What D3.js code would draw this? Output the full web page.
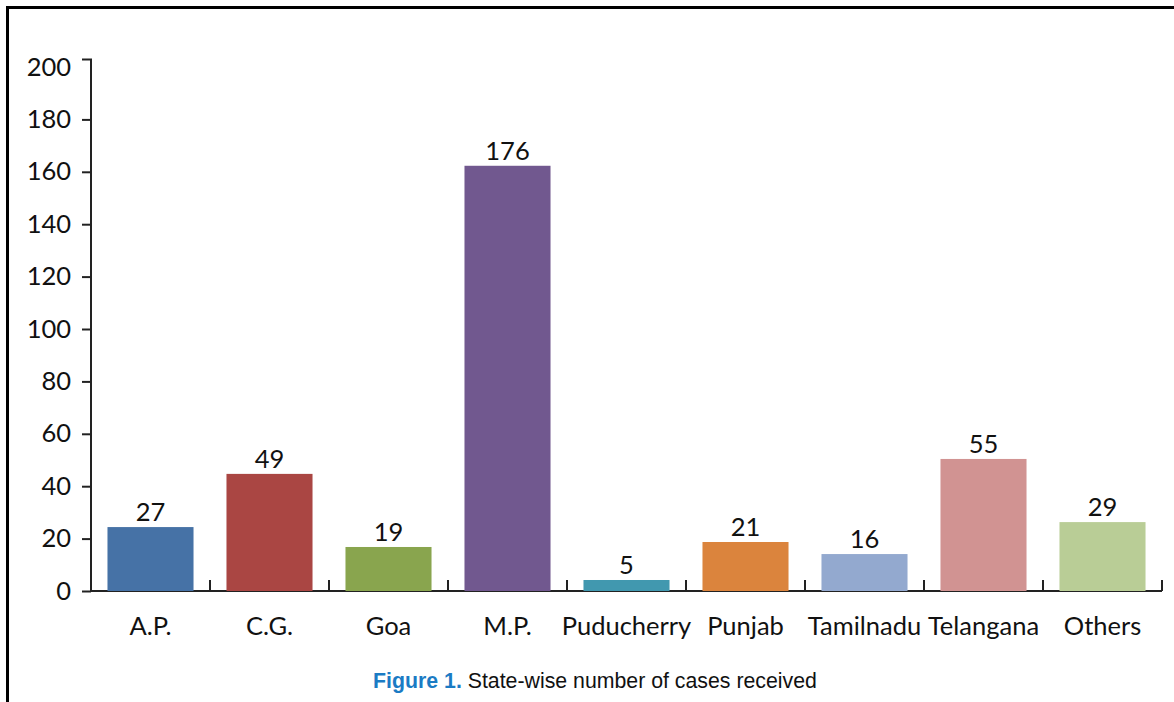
<!DOCTYPE html>
<html>
<head>
    <meta charset="utf-8" />
    <title>State-wise number of cases received</title>
    <style>
        body { margin: 0; background: #fff; }
        text { font-family: Lato, "Open Sans", sans-serif; font-size: 25.5px; fill: #111; }
        .axis path, .axis line { stroke: #222; stroke-width: 2px; fill: none; }
        .caption { font-family: "Liberation Sans", Arial, sans-serif; font-size: 21.3px; }
    </style>
</head>
<body>
    <script src="https://d3js.org/d3.v7.min.js"></script>
    <script>
      // chart data
      var states = ["A.P.", "C.G.", "Goa", "M.P.", "Puducherry", "Punjab", "Tamilnadu", "Telangana", "Others"];
      var cases = [27, 49, 19, 176, 5, 21, 16, 55, 29];            // printed labels
      var barHeights = [24.4, 44.7, 16.8, 162.3, 4.2, 18.7, 14.1, 50.4, 26.3]; // bar tops as drawn
      var colors = ["#4672a6", "#aa4643", "#89a54e", "#71588f", "#4198af", "#db843d", "#93a9cf", "#d19392", "#b9cd96"];
      var yTicks = [0, 20, 40, 60, 80, 100, 120, 140, 160, 180, 200];

      var width = 1174, height = 702;

      var svg = d3.select("body").append("svg")
        .attr("width", width)
        .attr("height", height);

      // frame
      svg.append("path")
        .attr("d", "M7.5," + height + " V7.5 H" + width)
        .attr("fill", "none")
        .attr("stroke", "#000")
        .attr("stroke-width", 3);

      var x = d3.scaleBand()
        .domain(states)
        .range([91, 1162])
        .paddingInner(0.277)
        .paddingOuter(0.1385);

      var y = d3.scaleLinear()
        .domain([0, 200])
        .range([591, 67]);

      // y axis
      var yAxis = svg.append("g")
        .attr("class", "axis")
        .attr("transform", "translate(91,0)")
        .call(d3.axisLeft(y).tickValues(yTicks).tickSize(9).tickPadding(11).tickSizeOuter(0));
      yAxis.select(".domain").attr("d", "M-9,59.5 H0 V591");
      yAxis.selectAll(".tick").filter(function(d) { return d === 200; }).select("line").remove();
      yAxis.selectAll("text").attr("fill", "#111").style("font-size", "25.5px").style("font-family", "Lato, sans-serif");

      // x axis baseline and tick marks between bands
      var xAxis = svg.append("g").attr("class", "axis");
      xAxis.append("line")
        .attr("x1", 91).attr("x2", 1162)
        .attr("y1", y(0)).attr("y2", y(0));
      xAxis.selectAll(".sep")
        .data(states)
        .enter().append("line")
        .attr("x1", function(d) { return x(d) + x.bandwidth() + x.step() * 0.1385; })
        .attr("x2", function(d) { return x(d) + x.bandwidth() + x.step() * 0.1385; })
        .attr("y1", y(0))
        .attr("y2", y(0) - 11);

      svg.selectAll(".bar")
        .data(states)
        .enter().append("rect")
        .attr("x", function(d) { return x(d); })
        .attr("width", x.bandwidth())
        .attr("y", function(d, i) { return y(barHeights[i]); })
        .attr("height", function(d, i) { return y(0) - y(barHeights[i]); })
        .attr("fill", function(d, i) { return colors[i]; });

      svg.selectAll(".val")
        .data(states)
        .enter().append("text")
        .attr("x", function(d) { return x(d) + x.bandwidth() / 2; })
        .attr("y", function(d, i) { return y(barHeights[i]) - 6; })
        .attr("text-anchor", "middle")
        .text(function(d, i) { return cases[i]; });

      svg.selectAll(".cat")
        .data(states)
        .enter().append("text")
        .attr("x", function(d) { return x(d) + x.bandwidth() / 2; })
        .attr("y", 635)
        .attr("text-anchor", "middle")
        .text(function(d) { return d; });

      var cap = svg.append("text")
        .attr("class", "caption")
        .attr("x", 595)
        .attr("y", 688)
        .attr("text-anchor", "middle");
      cap.append("tspan").attr("fill", "#1b7bc4").attr("font-weight", "bold").text("Figure 1.");
      cap.append("tspan").attr("fill", "#111").text(" State-wise number of cases received");
    </script>
</body>
</html>
